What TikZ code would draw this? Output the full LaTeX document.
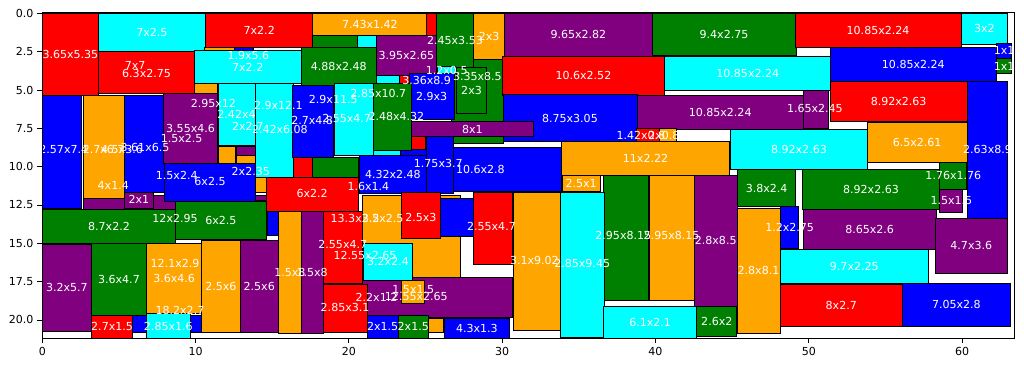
\documentclass[tikz,border=0pt]{standalone}
\usepackage{fontspec}
\setmainfont{DejaVu Sans}
\definecolor{mplorange}{HTML}{FFA500}
\definecolor{mplgreen}{HTML}{008000}
\definecolor{mplpurple}{HTML}{800080}
\definecolor{mplcyan}{HTML}{00FFFF}

\begin{document}
\begin{tikzpicture}[
    x=0.4cm,y=-0.4cm,
    box/.style={draw=black,line width=0.6pt},
    redbox/.style={box,fill=red},
    cyanbox/.style={box,fill=mplcyan},
    orangebox/.style={box,fill=mplorange},
    greenbox/.style={box,fill=mplgreen},
    bluebox/.style={box,fill=blue},
    purplebox/.style={box,fill=mplpurple},
    lbl/.style={text=white,font=\fontsize{8.2}{9}\selectfont,inner sep=0pt},
    ticklbl/.style={font=\fontsize{8.2}{9}\selectfont,inner sep=0pt}
]
  \useasboundingbox (-2.76,-0.87) rectangle (64.04,23.07);

  % Rectangles lying partly under others come first.
  \draw[greenbox]  (26.7,0) rectangle (30.05,8.5);
  \draw[purplebox] (18.1,17.2) rectangle (30.65,19.85);
  \draw[orangebox] (20.9,11.85) rectangle (27.3,17.2);
  \draw[purplebox] (2.65,11.9) rectangle (8.7,12.8);
  \draw[bluebox]   (5.9,19.7) rectangle (10.4,20.8);

  % Top band.
  \draw[redbox]    (0,0) rectangle (3.65,5.35);
  \draw[cyanbox]   (3.65,0) rectangle (10.65,2.5);
  \draw[redbox]    (3.65,2.5) rectangle (9.95,5.25);
  \draw[redbox]    (10.65,0) rectangle (17.65,2.2);
  \draw[orangebox] (10.6,2.2) rectangle (12.55,2.45);
  \draw[bluebox]   (12.55,2.2) rectangle (13.75,2.5);
  \draw[cyanbox]   (9.9,2.45) rectangle (16.9,4.6);
  \draw[orangebox] (9.95,4.6) rectangle (11.45,5.25);
  \draw[orangebox] (17.65,0) rectangle (25.08,1.42);
  \draw[redbox]    (25.08,0) rectangle (25.7,1.42);
  \draw[greenbox]  (17.65,1.42) rectangle (20.55,2.2);
  \draw[cyanbox]   (20.55,1.42) rectangle (21.78,2.2);
  \draw[greenbox]  (16.9,2.2) rectangle (21.78,4.68);
  \draw[purplebox] (21.78,1.42) rectangle (25.72,4.07);
  \draw[cyanbox]   (21.8,4.07) rectangle (23.3,4.6);
  \draw[redbox]    (23.3,4.07) rectangle (23.95,4.6);
  \draw[greenbox]  (25.7,0) rectangle (28.15,3.5);
  \draw[orangebox] (28.15,0) rectangle (30.15,3);
  \draw[cyanbox]   (25.75,3.45) rectangle (26.95,3.95);
  \draw[greenbox]  (27,3.5) rectangle (29,6.5);
  \draw[bluebox]   (23.95,3.95) rectangle (26.85,6.95);
  \draw[purplebox] (30.15,0) rectangle (39.8,2.82);
  \draw[greenbox]  (39.8,0) rectangle (49.2,2.75);
  \draw[redbox]    (49.1,0) rectangle (59.95,2.24);
  \draw[cyanbox]   (59.95,0) rectangle (62.95,2);
  \draw[bluebox]   (62.25,1.95) rectangle (63.25,2.95);
  \draw[greenbox]  (62.25,2.95) rectangle (63.25,3.95);
  \draw[redbox]    (30,2.82) rectangle (40.6,5.34);
  \draw[cyanbox]   (40.6,2.8) rectangle (51.45,5.04);
  \draw[bluebox]   (51.4,2.2) rectangle (62.25,4.44);

  % Right half.
  \draw[redbox]    (51.4,4.45) rectangle (60.32,7.08);
  \draw[bluebox]   (60.35,4.46) rectangle (62.98,13.36);
  \draw[bluebox]   (30.05,5.32) rectangle (38.8,8.37);
  \draw[purplebox] (38.8,5.33) rectangle (49.65,7.57);
  \draw[purplebox] (49.65,5.05) rectangle (51.3,7.5);
  \draw[orangebox] (53.82,7.1) rectangle (60.32,9.71);
  \draw[cyanbox]   (44.9,7.55) rectangle (53.82,10.18);
  \draw[redbox]    (38.77,7.5) rectangle (40.25,8.38);
  \draw[orangebox] (40.25,7.5) rectangle (41.38,8.38);
  \draw[orangebox] (33.85,8.38) rectangle (44.85,10.6);
  \draw[greenbox]  (58.55,9.7) rectangle (60.31,11.46);
  \draw[purplebox] (58.55,11.46) rectangle (60.05,12.96);
  \draw[greenbox]  (49.6,10.15) rectangle (58.52,12.78);
  \draw[greenbox]  (45.35,10.2) rectangle (49.15,12.6);
  \draw[orangebox] (45.32,12.75) rectangle (48.12,20.85);
  \draw[bluebox]   (48.15,12.6) rectangle (49.35,15.35);
  \draw[purplebox] (49.65,12.8) rectangle (58.3,15.4);
  \draw[purplebox] (58.25,13.37) rectangle (62.95,16.97);
  \draw[cyanbox]   (48.12,15.4) rectangle (57.82,17.65);
  \draw[redbox]    (48.12,17.7) rectangle (56.12,20.4);
  \draw[bluebox]   (56.1,17.62) rectangle (63.15,20.42);
  \draw[bluebox]   (23.28,8.75) rectangle (33.88,11.6);
  \draw[orangebox] (33.9,10.6) rectangle (36.4,11.6);
  \draw[greenbox]  (36.6,10.6) rectangle (39.55,18.75);
  \draw[orangebox] (39.58,10.6) rectangle (42.53,18.75);
  \draw[purplebox] (42.53,10.6) rectangle (45.33,19.1);
  \draw[cyanbox]   (33.8,11.68) rectangle (36.65,21.13);
  \draw[orangebox] (30.7,11.65) rectangle (33.8,20.67);
  \draw[redbox]    (28.1,11.65) rectangle (30.65,16.35);
  \draw[cyanbox]   (36.6,19.1) rectangle (42.7,21.2);
  \draw[greenbox]  (42.7,19.1) rectangle (45.3,21.1);
  \draw[purplebox] (24.05,7.05) rectangle (32.05,8.05);

  % Left half.
  \draw[bluebox]   (0,5.35) rectangle (2.57,12.75);
  \draw[orangebox] (2.65,5.35) rectangle (5.35,12.05);
  \draw[bluebox]   (5.35,5.35) rectangle (7.94,11.65);
  \draw[purplebox] (5.35,11.65) rectangle (7.25,12.7);
  \draw[purplebox] (7.9,5.25) rectangle (11.45,9.8);
  \draw[bluebox]   (7.94,9.8) rectangle (13.9,12.25);
  \draw[cyanbox]   (11.46,4.6) rectangle (13.88,8.6);
  \draw[orangebox] (11.46,8.65) rectangle (12.6,9.8);
  \draw[purplebox] (12.65,8.65) rectangle (13.88,9.25);
  \draw[orangebox] (12.65,9.3) rectangle (13.88,9.8);
  \draw[cyanbox]   (13.9,4.6) rectangle (16.35,10.7);
  \draw[orangebox] (13.9,10.7) rectangle (14.65,11.65);
  \draw[purplebox] (13.9,11.9) rectangle (14.65,12.2);
  \draw[bluebox]   (16.3,4.68) rectangle (19,9.4);
  \draw[cyanbox]   (19.05,4.6) rectangle (21.6,9.25);
  \draw[greenbox]  (21.6,4.6) rectangle (24.05,8.92);
  \draw[redbox]    (24.05,8.05) rectangle (25,8.9);
  \draw[bluebox]   (25.05,8.05) rectangle (26.8,11.75);
  \draw[cyanbox]   (21.6,8.92) rectangle (23.33,9.35);
  \draw[bluebox]   (20.7,9.3) rectangle (25.03,11.75);
  \draw[redbox]    (16.35,9.4) rectangle (17.6,10.75);
  \draw[greenbox]  (17.6,9.4) rectangle (20.6,10.75);
  \draw[redbox]    (14.65,10.7) rectangle (20.65,12.9);
  \draw[greenbox]  (0,12.8) rectangle (8.7,15);
  \draw[greenbox]  (8.65,12.25) rectangle (14.65,14.75);
  \draw[bluebox]   (14.7,12.9) rectangle (15.4,14.5);
  \draw[orangebox] (15.4,12.9) rectangle (16.9,20.9);
  \draw[purplebox] (16.9,12.9) rectangle (18.35,20.85);
  \draw[purplebox] (12.9,14.8) rectangle (15.4,20.8);
  \draw[orangebox] (10.4,14.8) rectangle (12.9,20.8);
  \draw[orangebox] (6.8,15) rectangle (10.4,19.6);
  \draw[greenbox]  (3.2,15) rectangle (6.8,19.7);
  \draw[purplebox] (0,15.05) rectangle (3.2,20.75);
  \draw[redbox]    (3.2,19.7) rectangle (5.9,21.2);
  \draw[cyanbox]   (6.8,19.6) rectangle (9.65,21.2);
  \draw[redbox]    (18.35,12.95) rectangle (20.9,17.65);
  \draw[cyanbox]   (20.95,15) rectangle (24.15,17.4);
  \draw[redbox]    (23.45,11.7) rectangle (25.95,14.7);
  \draw[bluebox]   (25.95,12.05) rectangle (28.1,14.55);
  \draw[orangebox] (23.45,17.45) rectangle (24.95,18.95);
  \draw[redbox]    (18.35,17.7) rectangle (21.2,20.8);
  \draw[bluebox]   (21.2,19.7) rectangle (23.2,21.2);
  \draw[greenbox]  (23.2,19.7) rectangle (25.2,21.2);
  \draw[orangebox] (25.2,19.9) rectangle (26.15,20.8);
  \draw[bluebox]   (26.2,19.9) rectangle (30.5,21.2);

  % Size labels, drawn over every rectangle.
  \node[lbl] (a1)  at (1.83,2.68)  {3.65x5.35};
  \node[lbl] (a2)  at (7.15,1.25)  {7x2.5};
  \node[lbl] (a3)  at (6.05,3.37)  {7x7};
  \node[lbl] (a4)  at (6.8,3.9)    {6.3x2.75};
  \node[lbl] (a5)  at (14.15,1.1)  {7x2.2};
  \node[lbl] (a6)  at (13.44,2.72) {1.9x5.6};
  \node[lbl] (a7)  at (13.4,3.52)  {7x2.2};
  \node[lbl] (a8)  at (21.37,0.71) {7.43x1.42};
  \node[lbl] (a9)  at (19.34,3.44) {4.88x2.48};
  \node[lbl] (a10) at (23.75,2.74) {3.95x2.65};
  \node[lbl] (a11) at (26.92,1.75) {2.45x3.53};
  \node[lbl] (a12) at (29.15,1.5)  {2x3};
  \node[lbl] (a13) at (25.07,4.35) {3.36x8.9};
  \node[lbl] (a14) at (26.38,3.7)  {1.2x0.5};
  \node[lbl] (a15) at (28.38,4.13) {3.35x8.5};
  \node[lbl] (a16) at (28,5)       {2x3};
  \node[lbl] (a17) at (25.4,5.45)  {2.9x3};
  \node[lbl] (a18) at (34.97,1.41) {9.65x2.82};
  \node[lbl] (a19) at (44.47,1.37) {9.4x2.75};
  \node[lbl] (a20) at (54.52,1.12) {10.85x2.24};
  \node[lbl] (a21) at (61.45,1)    {3x2};
  \node[lbl] (a22) at (62.75,2.45) {1x1};
  \node[lbl] (a23) at (62.75,3.45) {1x1};
  \node[lbl] (a24) at (35.3,4.08)  {10.6x2.52};
  \node[lbl] (a25) at (46.02,3.92) {10.85x2.24};
  \node[lbl] (a26) at (56.82,3.32) {10.85x2.24};
  \node[lbl] (a27) at (55.86,5.76) {8.92x2.63};
  \node[lbl] (a28) at (61.66,8.91) {2.63x8.9};
  \node[lbl] (a29) at (34.42,6.85) {8.75x3.05};
  \node[lbl] (a30) at (44.22,6.45) {10.85x2.24};
  \node[lbl] (a31) at (50.4,6.2)   {1.65x2.45};
  \node[lbl] (a32) at (57.07,8.4)  {6.5x2.61};
  \node[lbl] (a33) at (49.36,8.86) {8.92x2.63};
  \node[lbl] (a34) at (39.05,7.94) {1.42x0.8};
  \node[lbl] (a35) at (40.55,7.94) {2x0.8};
  \node[lbl] (a36) at (39.35,9.49) {11x2.22};
  \node[lbl] (a37) at (59.43,10.58) {1.76x1.76};
  \node[lbl] (a38) at (59.3,12.21) {1.5x1.5};
  \node[lbl] (a39) at (54.06,11.46) {8.92x2.63};
  \node[lbl] (a40) at (47.25,11.4) {3.8x2.4};
  \node[lbl] (a41) at (46.72,16.8) {2.8x8.1};
  \node[lbl] (a42) at (48.75,13.97) {1.2x2.75};
  \node[lbl] (a43) at (53.97,14.1) {8.65x2.6};
  \node[lbl] (a44) at (60.6,15.17) {4.7x3.6};
  \node[lbl] (a45) at (52.97,16.52) {9.7x2.25};
  \node[lbl] (a46) at (52.12,19.05) {8x2.7};
  \node[lbl] (a47) at (59.63,19.02) {7.05x2.8};
  \node[lbl] (a48) at (28.58,10.17) {10.6x2.8};
  \node[lbl] (a49) at (35.15,11.1) {2.5x1};
  \node[lbl] (a50) at (37.9,14.5)  {2.95x8.15};
  \node[lbl] (a51) at (41.05,14.5) {2.95x8.15};
  \node[lbl] (a52) at (43.93,14.85) {2.8x8.5};
  \node[lbl] (a53) at (35.22,16.35) {2.85x9.45};
  \node[lbl] (a54) at (32.1,16.1)  {3.1x9.02};
  \node[lbl] (a55) at (29.3,13.92) {2.55x4.7};
  \node[lbl] (a56) at (39.65,20.15) {6.1x2.1};
  \node[lbl] (a57) at (44,20.1)    {2.6x2};
  \node[lbl] (a58) at (28.05,7.55) {8x1};
  \node[lbl] (a59) at (1.4,8.9)    {2.57x7.4};
  \node[lbl] (a60) at (4,8.9)      {2.7x6.7};
  \node[lbl] (a61) at (5.2,8.9)    {4.5x3.6};
  \node[lbl] (a62) at (6.7,8.75)   {3.61x6.5};
  \node[lbl] (a63) at (6.3,12.17)  {2x1};
  \node[lbl] (a64) at (9.67,7.52)  {3.55x4.6};
  \node[lbl] (a65) at (11.16,5.87) {2.95x12};
  \node[lbl] (a66) at (9.09,8.15)  {1.5x2.5};
  \node[lbl] (a67) at (8.77,10.55) {1.5x2.4};
  \node[lbl] (a68) at (4.63,11.2)  {4x1.4};
  \node[lbl] (a69) at (10.94,10.98) {6x2.5};
  \node[lbl] (a70) at (13.6,10.33) {2x2.35};
  \node[lbl] (a71) at (12.67,6.6)  {2.42x4};
  \node[lbl] (a72) at (13.4,7.35)  {2x2.7};
  \node[lbl] (a73) at (15.5,7.6)   {2.42x6.08};
  \node[lbl] (a74) at (15.4,5.98)  {2.9x12.1};
  \node[lbl] (a75) at (18.98,5.65) {2.9x11.5};
  \node[lbl] (a76) at (21.92,5.22) {2.85x10.7};
  \node[lbl] (a77) at (17.6,7)     {2.7x4.8};
  \node[lbl] (a78) at (19.85,6.85) {2.55x4.7};
  \node[lbl] (a79) at (23.1,6.75)  {2.48x4.32};
  \node[lbl] (a80) at (25.83,9.78) {1.75x3.7};
  \node[lbl] (a81) at (22.87,10.5) {4.32x2.48};
  \node[lbl] (a82) at (21.27,11.31) {1.6x1.4};
  \node[lbl] (a83) at (17.6,11.75) {6x2.2};
  \node[lbl] (a84) at (4.35,13.9)  {8.7x2.2};
  \node[lbl] (a85) at (8.66,13.37) {12x2.95};
  \node[lbl] (a86) at (11.65,13.5) {6x2.5};
  \node[lbl] (a87) at (16.15,16.9) {1.5x8};
  \node[lbl] (a88) at (17.6,16.9)  {1.5x8};
  \node[lbl] (a89) at (14.15,17.8) {2.5x6};
  \node[lbl] (a90) at (11.65,17.8) {2.5x6};
  \node[lbl] (a91) at (8.66,16.3)  {12.1x2.9};
  \node[lbl] (a92) at (8.6,17.3)   {3.6x4.6};
  \node[lbl] (a93) at (5,17.35)    {3.6x4.7};
  \node[lbl] (a94) at (1.6,17.9)   {3.2x5.7};
  \node[lbl] (a95) at (4.55,20.45) {2.7x1.5};
  \node[lbl] (a96) at (8.98,19.4)  {18.2x2.7};
  \node[lbl] (a97) at (8.22,20.4)  {2.85x1.6};
  \node[lbl] (a98) at (19.6,15.1)  {2.55x4.7};
  \node[lbl] (a99) at (21.05,15.77) {12.55x2.65};
  \node[lbl] (a100) at (22.55,16.2) {3.2x2.4};
  \node[lbl] (a101) at (19.75,19.2) {2.85x3.1};
  \node[lbl] (a102) at (21.8,18.5) {2.2x1.2};
  \node[lbl] (a103) at (24.4,18.5) {12.55x2.65};
  \node[lbl] (a104) at (24.2,18.05) {1.5x1.5};
  \node[lbl] (a105) at (22.2,20.45) {2x1.5};
  \node[lbl] (a106) at (24.2,20.45) {2x1.5};
  \node[lbl] (a107) at (28.35,20.55) {4.3x1.3};
  \node[lbl] (a108) at (20.4,13.35) {13.3x2.5};
  \node[lbl] (a109) at (22.2,13.35) {3.2x2.5};
  \node[lbl] (a110) at (24.7,13.3) {2.5x3};

  % Axes frame with its ticks.
  \draw[line width=0.6pt] (0,-0.04) rectangle (63.4,21.2);
  \foreach \xv in {0,10,...,60}
    \draw[line width=0.6pt] (\xv,21.2) -- (\xv,21.53)
      node[ticklbl,below=2.5pt] {\xv};
  \foreach \yv/\yt in {0/0.0,2.5/2.5,5/5.0,7.5/7.5,10/10.0,12.5/12.5,15/15.0,17.5/17.5,20/20.0}
    \draw[line width=0.6pt] (0,\yv) -- (-0.33,\yv)
      node[ticklbl,left=2.5pt] {\yt};
\end{tikzpicture}
\end{document}
